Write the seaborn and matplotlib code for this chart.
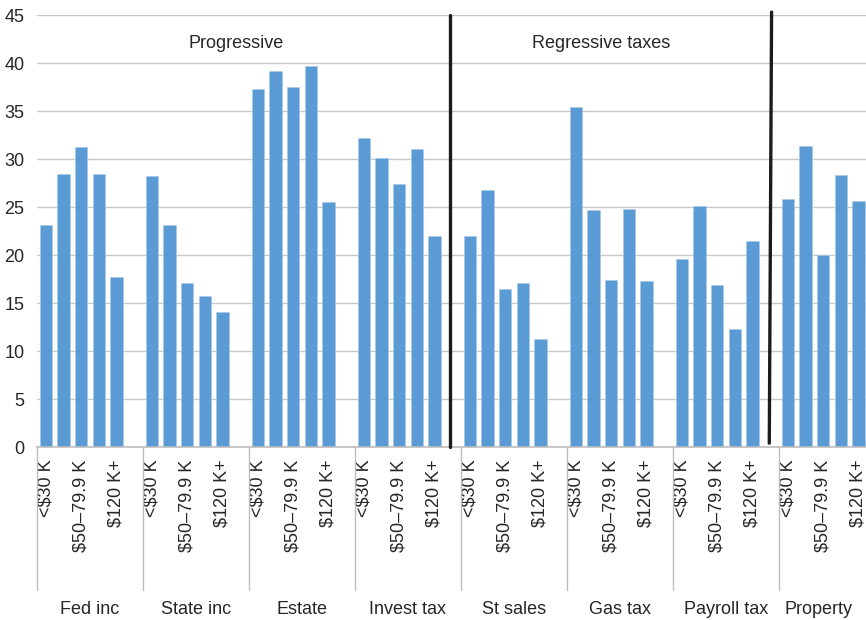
import matplotlib
matplotlib.use("Agg")
import matplotlib.pyplot as plt
import matplotlib.transforms as mtransforms
from matplotlib.lines import Line2D
import pandas as pd
import seaborn as sns

# Tax share by income bracket, grouped by tax type
groups = ["Fed inc", "State inc", "Estate", "Invest tax",
          "St sales", "Gas tax", "Payroll tax", "Property"]
brackets = ["<$30 K", "$30–49.9 K", "$50–79.9 K", "$80–119.9 K", "$120 K+"]
shown_brackets = ["<$30 K", "$50–79.9 K", "$120 K+"]

fed_inc = [23.1, 28.4, 31.3, 28.4, 17.7]
state_inc = [28.2, 23.1, 17.1, 15.7, 14.1]
estate = [37.3, 39.2, 37.5, 39.7, 25.5]
invest_tax = [32.2, 30.1, 27.4, 31.0, 22.0]
st_sales = [22.0, 26.8, 16.5, 17.1, 11.3]
gas_tax = [35.4, 24.7, 17.4, 24.8, 17.3]
payroll_tax = [19.6, 25.1, 16.9, 12.3, 21.5]
property_tax = [25.8, 31.4, 20.0, 28.3, 25.6]
series = [fed_inc, state_inc, estate, invest_tax,
          st_sales, gas_tax, payroll_tax, property_tax]

section_titles = ["Progressive", "Regressive taxes"]

BLUE = "#5B9BD5"
GRID = "#c9c9c9"
AXIS = "#bdbdbd"
TEXT = "#262626"

sns.set_style("white")
plt.rcParams["font.family"] = ["Liberation Sans", "DejaVu Sans"]

# one slot per bracket plus an empty spacer slot after each group
rows = []
order = []
for g, vals in zip(groups, series):
    for b, v in zip(brackets, vals):
        key = f"{g}|{b}"
        rows.append({"slot": key, "share": v})
        order.append(key)
    order.append(f"{g}|gap")
df = pd.DataFrame(rows)
slots_per_group = len(brackets) + 1

fig = plt.figure(figsize=(8.66, 6.2), dpi=100)
ax = fig.add_axes([37 / 866, 173 / 620, 848 / 866, 432 / 620])

sns.barplot(data=df, x="slot", y="share", order=order, color=BLUE,
            width=0.68, saturation=1, edgecolor="#a8c8ea", linewidth=0.4,
            ax=ax, zorder=2)

ax.set_xlim(-0.5, len(order) - 0.5)
ax.set_ylim(0, 45)
ax.set_yticks(range(0, 46, 5))
ax.grid(axis="y", color=GRID, linewidth=1.0, zorder=0)
ax.set_axisbelow(True)
ax.set_xlabel("")
ax.set_ylabel("")

for s in ["left", "right", "top"]:
    ax.spines[s].set_visible(False)
ax.spines["bottom"].set_color(AXIS)
ax.spines["bottom"].set_linewidth(1.2)

# bracket labels on every other bar
tick_pos, tick_lab = [], []
for gi in range(len(groups)):
    for b in shown_brackets:
        tick_pos.append(gi * slots_per_group + brackets.index(b))
        tick_lab.append(b)
ax.set_xticks(tick_pos)
ax.set_xticklabels(tick_lab, rotation=90, fontsize=13, color=TEXT)
ax.tick_params(axis="x", length=0, pad=9)
ax.tick_params(axis="y", length=0, pad=9, labelsize=13, labelcolor=TEXT)

# group dividers and group names below the axis
trans = mtransforms.blended_transform_factory(ax.transData, fig.transFigure)
for gi, g in enumerate(groups):
    left = gi * slots_per_group - 0.5
    ax.add_line(Line2D([left, left], [173 / 620, 30 / 620], transform=trans,
                       color=AXIS, linewidth=1.0, clip_on=False))
    cx = gi * slots_per_group + 2.5
    if gi == len(groups) - 1:
        cx -= 0.75
    ax.text(cx, 10 / 620, g, transform=trans, ha="center", va="center",
            fontsize=13, color=TEXT, clip_on=False)

# section dividers in the spacer slots
ax.plot([22.85, 22.85], [0, 45], color="#1c1c1c", linewidth=2.4,
        zorder=3, clip_on=False)
ax.plot([40.95, 41.08], [0.4, 45.3], color="#1c1c1c", linewidth=2.4,
        zorder=3, clip_on=False)

ax.text(10.76, 42.05, section_titles[0], ha="center", va="center",
        fontsize=13, color=TEXT)
ax.text(31.43, 42.05, section_titles[1], ha="center", va="center",
        fontsize=13, color=TEXT)

fig.savefig("out.png", dpi=100)
